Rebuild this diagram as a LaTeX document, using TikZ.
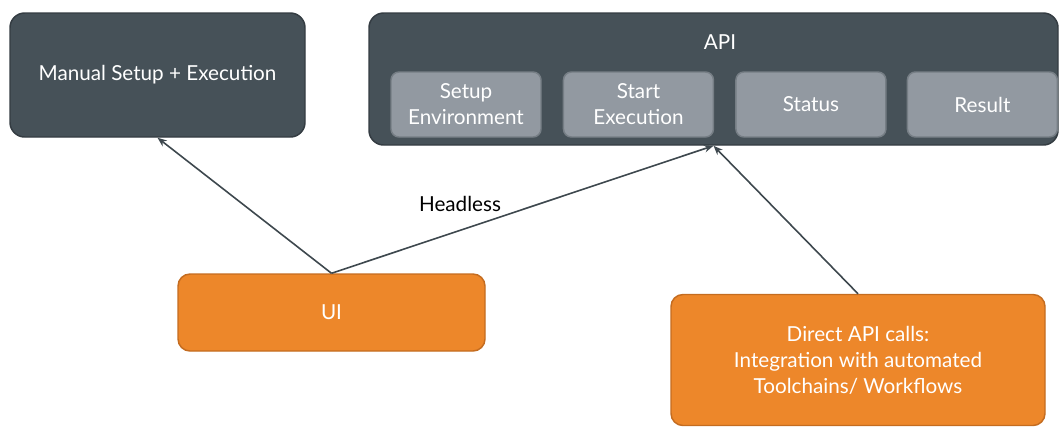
\documentclass[tikz,border=0pt]{standalone}
\usepackage{fontspec}
\setmainfont{Lato}
\usetikzlibrary{arrows.meta,positioning}
\definecolor{Ardoise}{RGB}{70,81,88}
\definecolor{ArdoiseBord}{RGB}{52,60,66}
\definecolor{Galet}{RGB}{146,153,161}
\definecolor{GaletBord}{RGB}{118,126,133}
\definecolor{Potiron}{RGB}{237,135,42}
\definecolor{PotironBord}{RGB}{196,108,32}
\definecolor{Trait}{RGB}{62,72,78}

\begin{document}
\begin{tikzpicture}[x=0.75pt,y=-0.75pt,
  bloc/.style={line width=1.1pt, text=white, align=center, inner sep=0pt,
               font=\fontsize{15.5}{19.5}\selectfont},
  sombre/.style={bloc, rounded corners=11pt, fill=Ardoise, draw=ArdoiseBord},
  clair/.style={bloc, rounded corners=6pt, fill=Galet, draw=GaletBord,
                minimum width=112.5pt, minimum height=48.75pt},
  orange/.style={bloc, rounded corners=9pt, fill=Potiron, draw=PotironBord},
  lien/.style={draw=Trait, line width=1.2pt, -{Stealth[length=7pt,width=5.5pt]}}]
\useasboundingbox (0,0) rectangle (1060,426);
%
% boites du haut
\node[sombre, minimum width=221.25pt, minimum height=93pt] (manuel) at (157.5,75) {Manual Setup + Execution};
\node[sombre, minimum width=516.75pt, minimum height=99pt] (api) at (713.5,79) {};
\node[text=white, font=\fontsize{15.5}{19.5}\selectfont] (apititre) at (720,42) {API};
\node[clair] (setup) at (466,104.5) {Setup\\Environment};
\node[clair, right=15.75pt of setup] (start) {Start\\Execution};
\node[clair, right=15.75pt of start] (status) {Status};
\node[clair, right=15pt of status] (result) {Result};
%
% boites du bas
\node[orange, minimum width=230.25pt, minimum height=57.75pt] (ui) at (331.5,312.5) {UI};
\node[orange, minimum width=280.5pt, minimum height=98.25pt] (direct) at (858,360)
  {Direct API calls:\\Integration with automated\\Toolchains/ Workflows};
%
% fleches
\draw[lien] (ui.north) -- (manuel.south);
\draw[lien] (ui.north) -- (api.south);
\draw[lien] (direct.north) -- (api.south);
\node[font=\fontsize{15.5}{19.5}\selectfont] (headless) at (460,204) {Headless};
%
\end{tikzpicture}
\end{document}
